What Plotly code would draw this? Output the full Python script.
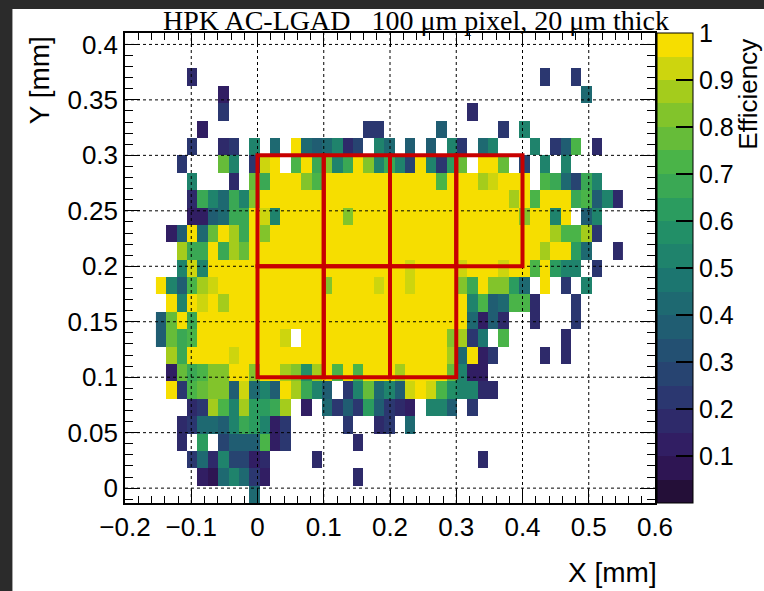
import numpy as np
import plotly.graph_objects as go

# ---- binning of the efficiency map (mm) ----
bin_width = 0.01567
x_first_edge = -0.1533
y_first_edge = -0.0134
n_cols = 45
n_rows = 26

_ = None
# efficiency per bin, rows listed from the top row (highest Y) down to the bottom row
efficiency_rows = [
    [_,_,_,_,_,_,_,_,_,_, _,_,_,_,_,_,_,_,_,_, _,_,_,_,_,_,_,_,_,_, _,_,_,_,_,_,_,_,_,_, _,_,_,_,_],
    [_,_,_,.17,_,_,_,_,_,_, _,_,_,_,_,_,_,_,_,_, _,_,_,_,_,_,_,_,_,_, _,_,_,_,_,_,_,.22,_,_, .22,_,_,_,_],
    [_,_,_,_,_,_,.14,_,_,_, _,_,_,_,_,_,_,_,_,_, _,_,_,_,_,_,_,_,_,_, _,_,_,_,_,_,_,_,_,_, _,.40,_,_,_],
    [_,_,_,_,_,_,.20,_,_,_, _,_,_,_,_,_,_,_,_,_, _,_,_,_,_,_,_,_,_,_, .17,_,_,_,_,_,_,_,_,_, _,_,_,_,_],
    [_,_,_,_,.14,_,_,_,_,_, _,_,_,_,_,_,_,_,_,_, .20,.20,_,_,_,_,_,.38,_,_, _,_,_,.24,_,.52,_,_,_,_, _,_,_,_,_],
    [_,_,_,.20,_,_,.17,.20,_,.50, _,.42,_,.98,.40,.38,.40,.50,.17,.28, _,.52,.42,_,.38,_,.38,_,.50,.22, _,.40,.50,_,_,_,.52,_,.24,.38, .73,_,.17,_,_],
    [_,_,.20,_,_,_,.78,.52,_,.22, .90,.98,_,.73,.98,.65,.80,.52,.65,.98, .82,.50,.65,.52,.25,.98,.52,.22,.60,.75, _,.98,.98,.78,_,.25,_,.50,_,.50, _,_,_,_,_],
    [_,_,_,.52,_,_,_,.17,_,.78, .67,.98,.98,.98,.82,.73,.98,.98,.98,.98, .98,.98,.98,.98,.98,.98,.98,.73,.98,.98, .98,.87,.92,.98,.98,.98,_,.73,.68,.40, .28,.65,.52,_,_],
    [_,_,_,.17,.65,.52,.40,.67,.52,.80, .98,.98,.98,.98,.98,.98,.98,.98,.98,.98, .98,.98,.98,.98,.98,.98,.98,.98,.98,.98, .98,.98,.98,.98,.87,.98,.73,.98,.98,.98, .67,.73,.38,.50,.17],
    [_,_,_,.12,.12,.38,.40,.67,.67,.98, .92,.52,.98,.98,.98,.98,.98,.98,.82,.98, .98,.98,.98,.98,.98,.98,.98,.98,.98,.98, .98,.98,.98,.98,.98,.82,.98,.98,.50,.98, _,.38,.52,_,_],
    [_,.10,.38,.98,.40,.78,.98,.87,.67,.98, .82,.98,.98,.98,.98,.98,.98,.98,.98,.98, .98,.98,.98,.98,.98,.98,.98,.98,.98,.98, .98,.98,.98,.98,.98,.98,.98,.98,.87,.73, .73,.87,.22,_,_],
    [_,_,.87,.67,.65,.98,.67,.87,.78,.98, .98,.98,.98,.98,.98,.98,.98,.98,.98,.98, .98,.98,.98,.98,.98,.98,.98,.98,.98,.98, .98,.98,.98,.98,.98,.98,.98,.87,.98,.98, .62,.40,_,_,.17],
    [_,_,.52,.92,.52,.98,.98,.98,.98,.98, .98,.98,.98,.98,.98,.98,.98,.98,.98,.98, .98,.98,.98,.98,.92,.98,.98,.98,.98,.92, .98,.98,.98,.92,.98,.98,.73,.98,.62,.52, .52,_,.22,_,_],
    [.98,.52,.38,.73,.87,.92,.98,.98,.98,.98, .98,.98,.98,.98,.98,.98,.82,.98,.98,.98, .98,.92,.98,.98,.92,.98,.98,.98,.98,.82, .65,.98,.82,.82,.62,.40,_,.98,_,.22, _,.50,_,_,_],
    [_,.98,.52,.98,.92,.98,.87,.98,.98,.98, .98,.98,.98,.98,.98,.98,.98,.98,.98,.98, .98,.98,.98,.98,.98,.98,.98,.98,.98,.98, .52,.73,.38,.40,.73,.73,.17,_,_,_, .22,_,_,_,_],
    [.38,.78,.98,.67,.98,.98,.98,.98,.98,.98, .98,.98,.98,.98,.98,.98,.98,.98,.98,.98, .98,.98,.98,.98,.98,.98,.98,.98,.98,.98, .40,.14,.38,.17,_,_,.17,_,_,_, .22,_,_,_,_],
    [.38,.78,.67,.73,.98,.98,.98,.98,.98,.98, .98,.98,.92,_,.98,.98,.98,.98,.98,.98, .98,.98,.98,.98,.98,.98,.98,.98,.82,.87, .22,.48,_,.73,_,_,_,_,_,.17, _,_,_,_,_],
    [_,.87,.67,.98,.98,.98,.98,.92,.98,.98, .98,.98,.98,.98,.98,.98,.98,.98,.98,.98, .98,.98,.98,.98,.98,.98,.98,.98,.87,.42, .98,.14,.22,_,_,_,_,.17,_,.17, _,_,_,_,_],
    [_,.12,.78,.67,.73,.82,.82,.98,.98,.80, .98,.98,.87,.82,.57,.87,.98,.70,.98,.73, .98,.98,.98,.87,.98,.98,.98,.98,.78,.52, .14,.14,_,_,_,_,_,_,_,_, _,_,_,_,_],
    [_,.98,.24,.73,.78,.82,.82,.38,.92,.40, .52,.38,.98,.87,.67,.52,.38,_,.22,.52, .78,.42,.50,.38,.92,.98,.92,.73,.57,.52, .52,.17,.17,_,_,_,_,_,_,_, _,_,_,_,_],
    [_,_,_,.17,.22,.87,.73,.52,.87,.62, .62,.65,.87,_,.12,_,.42,.22,.38,.24, .62,.38,.24,.17,.12,_,.52,.52,.38,_, .22,_,_,_,_,_,_,_,_,_, _,_,_,_,_],
    [_,_,.17,.22,.42,.42,.38,.50,.65,.60, .52,.12,.22,_,_,_,_,_,.22,_, _,.15,.22,_,.42,_,_,_,_,_, _,_,_,_,_,_,_,_,_,_, _,_,_,_,_],
    [_,_,.15,_,.62,_,.25,.38,.38,.38, .73,.12,.22,_,_,_,_,_,_,.15, _,_,_,_,_,_,_,_,_,_, _,_,_,_,_,_,_,_,_,_, _,_,_,_,_],
    [_,_,_,.22,.42,.15,.52,.28,.28,.10, .15,_,_,_,_,.17,_,_,_,_, _,_,_,_,_,_,_,_,_,_, _,.17,_,_,_,_,_,_,_,_, _,_,_,_,_],
    [_,_,_,_,.12,.07,.42,.52,.40,.24, .10,_,_,_,_,_,_,_,_,.17, _,_,_,_,_,_,_,_,_,_, _,_,_,_,_,_,_,_,_,_, _,_,_,_,_],
    [_,_,_,_,_,_,_,_,_,.40, _,_,_,_,_,_,_,_,_,_, _,_,_,_,_,_,_,_,_,_, _,_,_,_,_,_,_,_,_,_, _,_,_,_,_],
]

# readout pads (x0, x1, y0, y1) in mm
pads = [
    (0.0, 0.1, 0.2, 0.3), (0.1, 0.2, 0.2, 0.3), (0.2, 0.3, 0.2, 0.3), (0.3, 0.4, 0.2, 0.3),
    (0.0, 0.1, 0.1, 0.2), (0.1, 0.2, 0.1, 0.2), (0.2, 0.3, 0.1, 0.2),
]

x_range = [-0.2, 0.6]
y_range = [-0.0134, 0.4103]
x_grid = [-0.1, 0.0, 0.1, 0.2, 0.3, 0.4, 0.5]
y_grid = [0.0, 0.05, 0.1, 0.15, 0.2, 0.25, 0.3, 0.35, 0.4]
z_ticks = [0.1, 0.2, 0.3, 0.4, 0.5, 0.6, 0.7, 0.8, 0.9, 1.0]
z_ticktext = ["0.1", "0.2", "0.3", "0.4", "0.5", "0.6", "0.7", "0.8", "0.9", "1"]

# ---- ROOT-like viridis palette, 20 contour bands ----
stops = np.linspace(0, 1, 9)
red = np.array([26, 51, 43, 33, 28, 35, 74, 144, 246])
green = np.array([9, 24, 55, 87, 118, 150, 180, 200, 222])
blue = np.array([30, 96, 112, 114, 112, 101, 72, 35, 0])
n_bands = 20
colorscale = []
for i in range(n_bands):
    f = (i + 0.99) / n_bands
    c = "rgb(%d,%d,%d)" % (round(np.interp(f, stops, red)),
                            round(np.interp(f, stops, green)),
                            round(np.interp(f, stops, blue)))
    colorscale.append([i / n_bands, c])
    colorscale.append([(i + 1) / n_bands, c])

x_centers = x_first_edge + bin_width * (np.arange(n_cols) + 0.5)
y_centers = y_first_edge + bin_width * (np.arange(n_rows) + 0.5)
z = [[np.nan if v is None else v for v in row] for row in efficiency_rows[::-1]]

fig = go.Figure()
fig.add_trace(go.Heatmap(
    x=x_centers, y=y_centers, z=z, zmin=0, zmax=1,
    colorscale=colorscale, hoverongaps=False,
    colorbar=dict(
        thickness=36, thicknessmode="pixels", len=1, lenmode="fraction",
        x=1.0038, xanchor="left", y=0.5, yanchor="middle", xpad=0, ypad=0,
        outlinewidth=1, outlinecolor="black",
        tickvals=z_ticks, ticktext=z_ticktext,
        ticks="inside", ticklen=17, tickwidth=1.5, tickcolor="black",
        tickfont=dict(family="Liberation Sans", size=25, color="black"),
    ),
))

shapes = []
# page background
shapes.append(dict(type="rect", xref="paper", yref="paper", layer="below",
                   x0=-0.2124, x1=1.3, y0=-0.3, y1=1.051,
                   fillcolor="white", line=dict(width=0)))
# dotted grid
for gx in x_grid:
    shapes.append(dict(type="line", xref="x", yref="y", x0=gx, x1=gx,
                       y0=y_range[0], y1=y_range[1],
                       line=dict(color="black", width=1, dash="dot")))
for gy in y_grid:
    shapes.append(dict(type="line", xref="x", yref="y", x0=x_range[0], x1=x_range[1],
                       y0=gy, y1=gy, line=dict(color="black", width=1, dash="dot")))
# pad outlines
for (px0, px1, py0, py1) in pads:
    shapes.append(dict(type="rect", xref="x", yref="y", x0=px0, x1=px1, y0=py0, y1=py1,
                       line=dict(color="#c80000", width=4), fillcolor="rgba(0,0,0,0)"))

axis_common = dict(
    showgrid=False, zeroline=False, showline=True, linecolor="black", linewidth=1.5,
    mirror="allticks", ticks="inside", tickcolor="black", tickwidth=1,
    tickfont=dict(family="Liberation Sans", size=26, color="black"),
)
fig.update_xaxes(range=x_range, tick0=0, dtick=0.1, ticklen=14,
                 minor=dict(dtick=0.02, ticks="inside", ticklen=7, tickcolor="black"),
                 **axis_common)
fig.update_yaxes(range=y_range, tick0=0, dtick=0.05, ticklen=15,
                 minor=dict(dtick=0.01, ticks="inside", ticklen=8, tickcolor="black"),
                 **axis_common)

annotations = [
    dict(text="HPK AC-LGAD   100 \u03bcm pixel, 20 \u03bcm thick", xref="paper", yref="paper",
         x=(417 - 125) / 532, y=(503 - 21) / 470, xanchor="center", yanchor="middle", showarrow=False,
         font=dict(family="Liberation Serif", size=28, color="black")),
    dict(text="X [mm]", xref="paper", yref="paper", x=(661 - 125) / 532, y=(503 - 572) / 470,
         xanchor="right", yanchor="middle", showarrow=False,
         font=dict(family="Liberation Sans", size=28, color="black")),
    dict(text="Y [mm]", xref="paper", yref="paper", x=(39.5 - 125) / 532, y=(503 - 80.5) / 470,
         xanchor="center", yanchor="middle", textangle=-90, showarrow=False,
         font=dict(family="Liberation Sans", size=28, color="black")),
    dict(text="Efficiency", xref="paper", yref="paper", x=(750 - 125) / 532, y=(503 - 94) / 470,
         xanchor="center", yanchor="middle", textangle=-90, showarrow=False,
         font=dict(family="Liberation Sans", size=26, color="black")),
]

fig.update_layout(
    width=764, height=591,
    margin=dict(l=125, r=107, t=33, b=88),
    paper_bgcolor="#2b2b2b", plot_bgcolor="white",
    shapes=shapes, annotations=annotations, showlegend=False,
)

fig.write_html("out.html")
